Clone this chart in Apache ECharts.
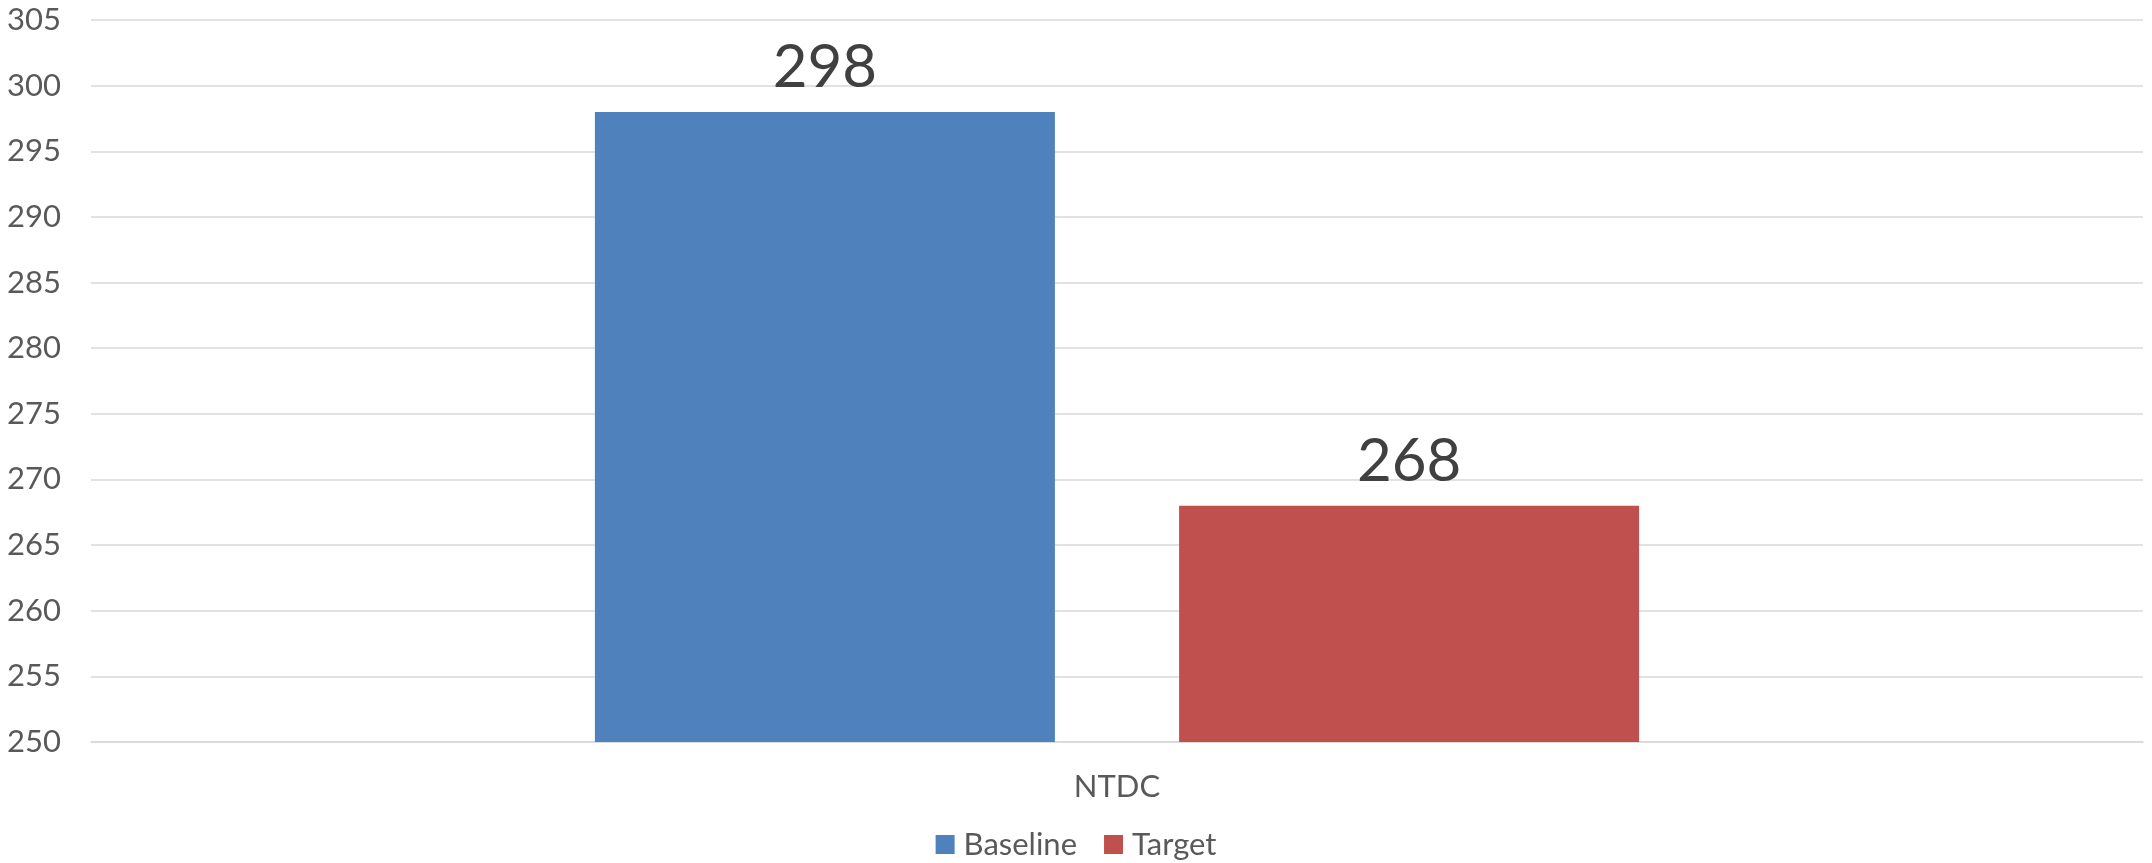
<!DOCTYPE html>
<html>
<head>
<meta charset="utf-8">
<script src="https://cdn.jsdelivr.net/npm/echarts@6/dist/echarts.min.js"></script>
<style>html,body{margin:0;padding:0;background:#fff;}#c{width:2152px;height:863px;}</style>
</head>
<body>
<div id="c"></div>
<script>
const categories = ['NTDC'];
const seriesNames = ['Baseline', 'Target'];
const baselineValues = [298];
const targetValues = [268];
const yMin = 250, yMax = 305, yStep = 5;

const chart = echarts.init(document.getElementById('c'), null, {renderer: 'canvas'});
const font = 'Lato, "Liberation Sans", sans-serif';
const labelStyle = {show: true, position: 'top', distance: 14, fontSize: 60, color: '#404040', fontFamily: font};
chart.setOption({
  animation: false,
  backgroundColor: '#ffffff',
  grid: {left: 91, right: 9, top: 20, bottom: 121, containLabel: false},
  legend: {
    data: seriesNames, bottom: -2, left: 'center', itemWidth: 19, itemHeight: 19, itemGap: 27,
    icon: 'rect',
    textStyle: {fontSize: 31, color: '#595959', fontFamily: font, padding: [0, 0, 0, 4]}
  },
  xAxis: {
    type: 'category', data: categories,
    axisLine: {lineStyle: {color: '#d9d9d9', width: 1.5}},
    axisTick: {show: false},
    axisLabel: {fontSize: 31, color: '#595959', margin: 29, fontFamily: font}
  },
  yAxis: {
    type: 'value', min: yMin, max: yMax, interval: yStep,
    axisLine: {show: false}, axisTick: {show: false},
    splitLine: {lineStyle: {color: '#d9d9d9', width: 1.5}},
    axisLabel: {fontSize: 31, color: '#595959', margin: 30, fontFamily: font}
  },
  series: [
    {name: seriesNames[0], type: 'bar', data: baselineValues, itemStyle: {color: '#4F81BD'},
     barWidth: 460, barGap: '27%', label: labelStyle},
    {name: seriesNames[1], type: 'bar', data: targetValues, itemStyle: {color: '#C0504D'},
     barWidth: 460, barGap: '27%', label: labelStyle}
  ]
});
</script>
</body>
</html>
